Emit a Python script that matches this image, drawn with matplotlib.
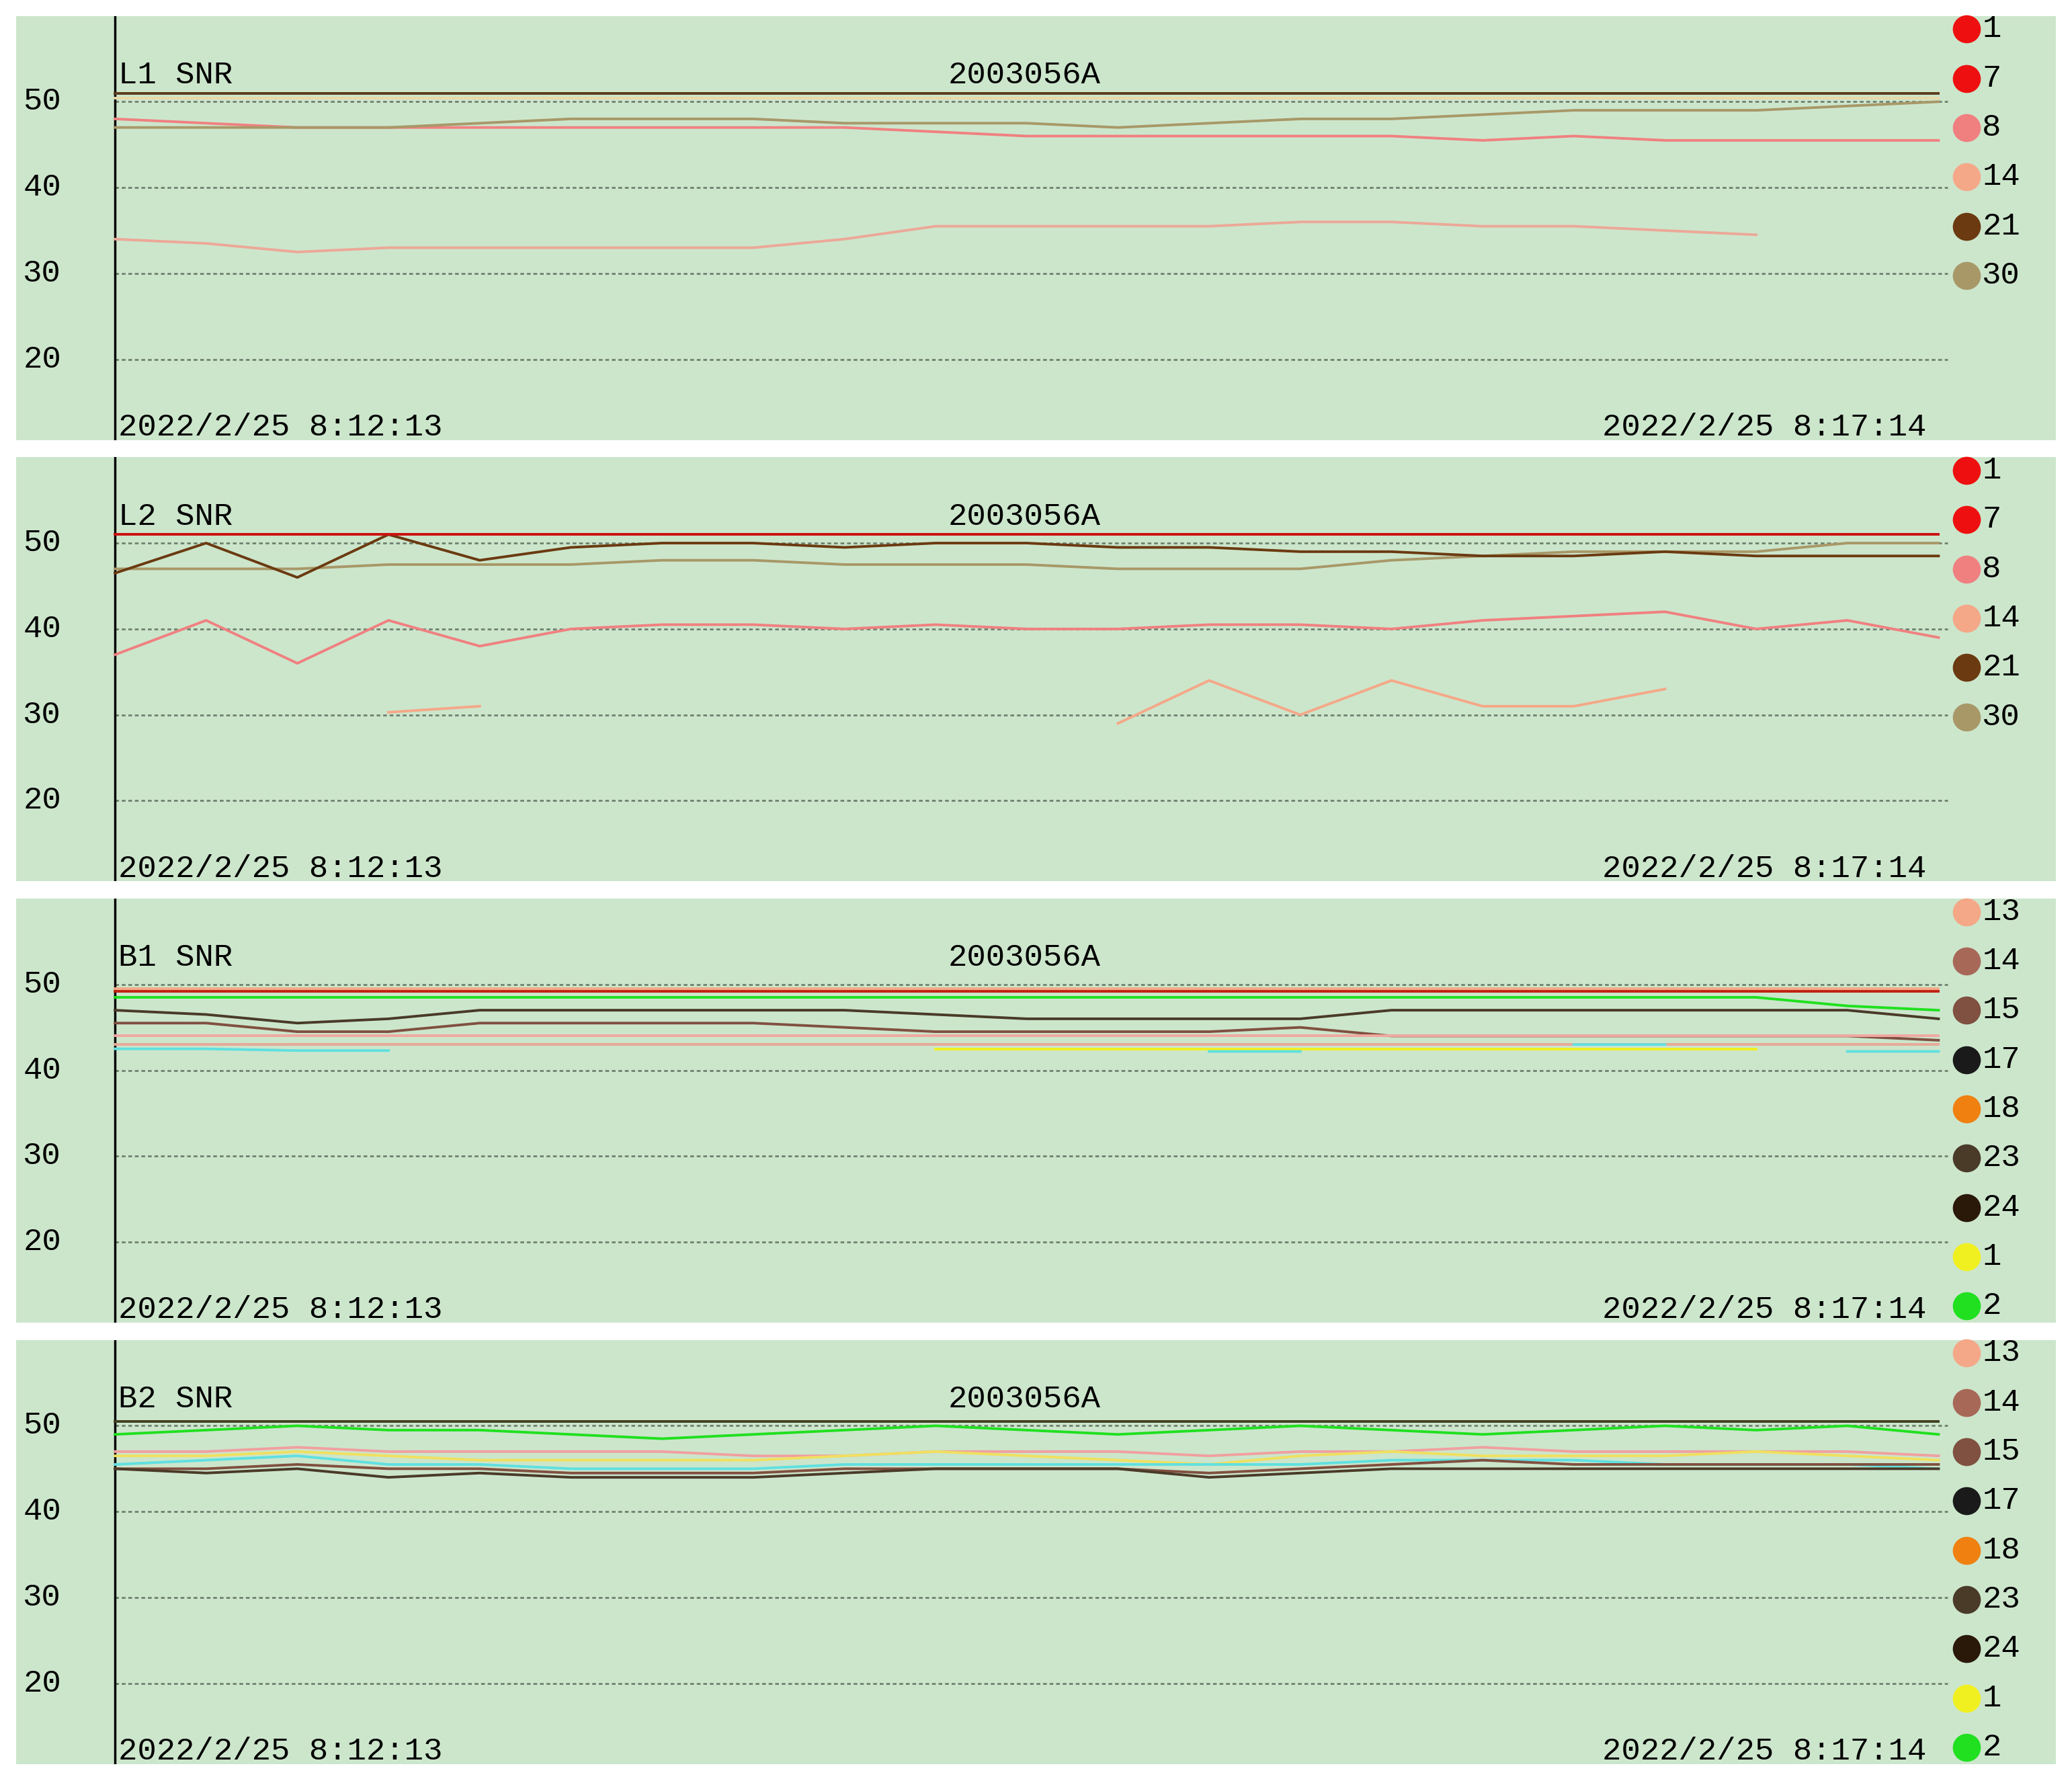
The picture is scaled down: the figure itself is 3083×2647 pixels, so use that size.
import numpy as np
import matplotlib
matplotlib.use("Agg")
import matplotlib.pyplot as plt
import matplotlib.transforms as mtrans

nan = np.nan
N = 21
t = np.linspace(0, 1, N)

yticks = [20, 30, 40, 50]
start_label = "2022/2/25 8:12:13"
end_label = "2022/2/25 8:17:14"
station = "2003056A"

C = {"1": "#ee1010", "7": "#ee1010", "8": "#f08080", "14": "#f4a888", "21": "#6b3a10",
     "30": "#a89868", "13": "#f4a888", "14b": "#a86858", "15": "#805040", "17": "#1a1a1a",
     "18": "#f08010", "23": "#4a3a28", "24": "#2a1808", "1b": "#f0f020", "2": "#20e020",
     "cyan": "#60e0e0"}

# ---- L1 ----
L1_s1 = [51] * N
L1_s7 = [51] * N
L1_s30 = [47,47,47,47,47.5,48,48,48,47.5,47.5,47.5,47,47.5,48,48,48.5,49,49,49,49.5,50]
L1_s8 = [48,47.5,47,47,47,47,47,47,47,46.5,46,46,46,46,46,45.5,46,45.5,45.5,45.5,45.5]
L1_s14 = [34,33.5,32.5,33,33,33,33,33,34,35.5,35.5,35.5,35.5,36,36,35.5,35.5,35,34.5,nan,nan]
L1_s14b = [50.4] * N
L1_s21 = [51] * N
# ---- L2 ----
L2_s1 = [51] * N
L2_s21 = [46.5,50,46,51,48,49.5,50,50,49.5,50,50,49.5,49.5,49,49,48.5,48.5,49,48.5,48.5,48.5]
L2_s30 = [47,47,47,47.5,47.5,47.5,48,48,47.5,47.5,47.5,47,47,47,48,48.5,49,49,49,50,50]
L2_s8 = [37,41,36,41,38,40,40.5,40.5,40,40.5,40,40,40.5,40.5,40,41,41.5,42,40,41,39]
L2_s14 = [nan,nan,nan,30.3,31,nan,nan,nan,nan,nan,nan,29,34,30,34,31,31,33,nan,nan,nan]
# ---- B1 ----
B1_s13 = [49.5] * N
B1_s24 = [49.2] * N
B1_s2 = [48.5] * 19 + [47.5, 47]
B1_s23 = [47,46.5,45.5,46,47,47,47,47,47,46.5,46,46,46,46,47,47,47,47,47,47,46]
B1_s15 = [45.5,45.5,44.5,44.5,45.5,45.5,45.5,45.5,45,44.5,44.5,44.5,44.5,45,44,44,44,44,44,44,43.5]
B1_s14 = [44] * N
B1_s17 = [43] * N
B1_s1 = [nan]*9 + [42.5]*10 + [nan, nan]
B1_cyan = [42.5,42.5,42.3,42.3,nan,nan,nan,nan,nan,nan,nan,nan,42.2,42.2,nan,nan,43,43,nan,42.2,42.2]
# ---- B2 ----
B2_s24 = [50.5] * N
B2_s2 = [49,49.5,50,49.5,49.5,49,48.5,49,49.5,50,49.5,49,49.5,50,49.5,49,49.5,50,49.5,50,49]
B2_s13 = [47,47,47.5,47,47,47,47,46.5,46.5,47,47,47,46.5,47,47,47.5,47,47,47,47,46.5]
B2_s1 = [46.5,46.5,47,46.5,46,46,46,46,46.5,47,46.5,46,45.5,46.5,47,46.5,46.5,46.5,47,46.5,46]
B2_cyan = [45.5,46,46.5,45.5,45.5,45,45,45,45.5,45.5,45.5,45.5,45.5,45.5,46,46,46,45.5,45.5,45.5,45]
B2_s15 = [45,45,45.5,45,45,44.5,44.5,44.5,45,45,45,45,44.5,45,45.5,46,45.5,45.5,45.5,45.5,45.5]
B2_s23 = [45,44.5,45,44,44.5,44,44,44,44.5,45,45,45,44,44.5,45,45,45,45,45,45,45]

legend_L = [("1", C["1"]), ("7", C["7"]), ("8", C["8"]), ("14", C["14"]), ("21", C["21"]), ("30", C["30"])]
legend_B = [("13", C["13"]), ("14", C["14b"]), ("15", C["15"]), ("17", C["17"]), ("18", C["18"]),
            ("23", C["23"]), ("24", C["24"]), ("1", C["1b"]), ("2", C["2"])]

panels = [
    ("L1 SNR", [(L1_s1, C["1"]), (L1_s7, C["7"]), (L1_s14b, "#e8d8a8"), (L1_s14, "#eca898"), (L1_s8, C["8"]), (L1_s30, C["30"]), (L1_s21, "#5a4020")], legend_L),
    ("L2 SNR", [(L2_s14, C["14"]), (L2_s8, C["8"]), (L2_s30, C["30"]), (L2_s21, C["21"]), (L2_s1, "#cc1010")], legend_L),
    ("B1 SNR", [(B1_s13, C["13"]), (B1_s24, "#c02010"), (B1_s2, C["2"]), (B1_s23, C["23"]), (B1_s15, C["15"]),
                (B1_s14, "#f0a8a0"), (B1_s17, "#e8a898"), (B1_s1, C["1b"]), (B1_cyan, C["cyan"])], legend_B),
    ("B2 SNR", [(B2_s24, "#404020"), (B2_s2, C["2"]), (B2_s13, "#f0a0a0"), (B2_s1, "#f0e060"), (B2_cyan, C["cyan"]),
                (B2_s15, C["15"]), (B2_s23, C["23"])], legend_B),
]

W, H = 3083, 2647
s = W / 1568.0
fig = plt.figure(figsize=(W / 100, H / 100), dpi=100)
fig.patch.set_facecolor("white")
FONT = "Liberation Mono"

x0d, x1d = 12, 1556
xa, xb = 87, 1467
left = -(xa - x0d) / (xb - xa)
right = (x1d - xa) / (xb - xa)
tops = [12, 346, 680, 1014]
ph = 321

for (title, series, legend), top in zip(panels, tops):
    ax = fig.add_axes([x0d * s / W, 1 - (top + ph) * s / H, (x1d - x0d) * s / W, ph * s / H])
    ax.set_facecolor("#cce6cc")
    for sp in ax.spines.values():
        sp.set_visible(False)
    ax.set_xticks([]); ax.set_yticks([])
    ax.set_xlim(left, right)
    ax.set_ylim(10.6, 60)
    for y in yticks:
        ax.plot([0, 1.005], [y, y], ls=(0, (2, 1.5)), color="#708070", lw=2)
        ax.text(-0.04, y, str(y), fontsize=34, family=FONT, ha="center", va="center")
    ax.axvline(0, color="black", lw=2.5)
    for vals, col in series:
        ax.plot(t, vals, color=col, lw=2.8)
    bt = mtrans.blended_transform_factory(ax.transData, ax.transAxes)
    ax.text(0.002, 0.86, title, fontsize=34, family=FONT, ha="left", va="center", transform=bt)
    ax.text((775 - xa) / (xb - xa), 0.86, station, fontsize=34, family=FONT, ha="center", va="center", transform=bt)
    ax.text(0.002, -0.005, start_label, fontsize=34, family=FONT, ha="left", va="bottom", transform=bt)
    ax.text((1458 - xa) / (xb - xa), -0.005, end_label, fontsize=34, family=FONT, ha="right", va="bottom", transform=bt)
    for i, (lab, col) in enumerate(legend):
        yy = 1 - (10 + 37.3 * i) / ph
        ax.plot([(1488 - xa) / (xb - xa)], [yy], marker="o", ms=30, color=col, mec="none", transform=bt, clip_on=False)
        ax.text((1500 - xa) / (xb - xa), yy, lab, fontsize=34, family=FONT, ha="left", va="center", transform=bt)

fig.savefig("out.png", dpi=100, facecolor="white")
